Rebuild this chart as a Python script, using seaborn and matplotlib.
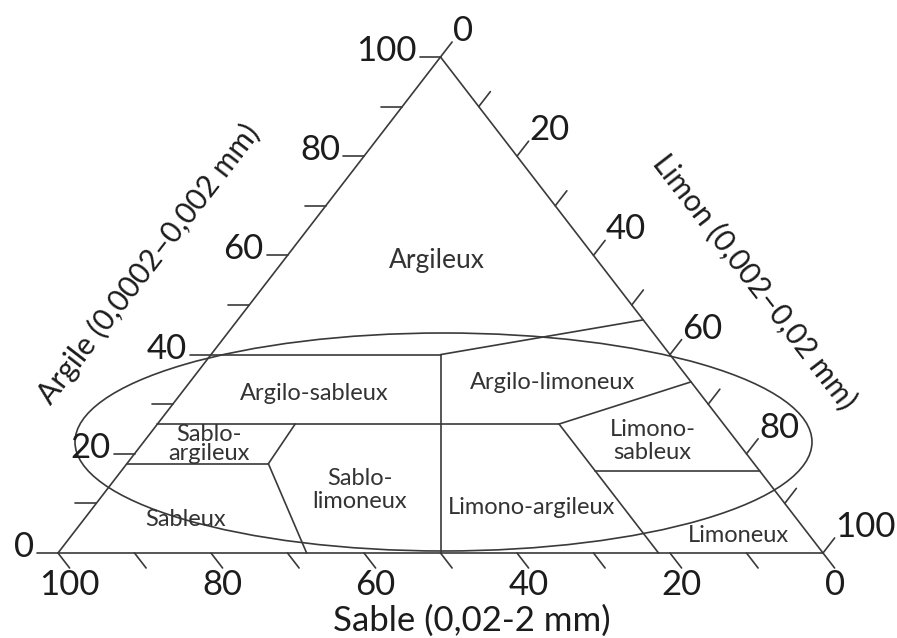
import numpy as np
import pandas as pd
import matplotlib
matplotlib.use("Agg")
import matplotlib.pyplot as plt
from matplotlib.patches import Ellipse
import seaborn as sns

# ---------------- data (sand, silt, clay percentages) ----------------
triangle_pts = [(100, 0, 0), (0, 100, 0), (0, 0, 100), (100, 0, 0)]

# class boundary segments, each = [start, end] in (sand, silt, clay)
boundary_segments = [
    [(60, 0, 40), (30, 30, 40)],
    [(30, 30, 40), (0, 53, 47)],
    [(30, 30, 40), (50, 50, 0)],
    [(74, 0, 26), (21.5, 52.5, 26)],
    [(21.5, 52.5, 26), (0, 65.5, 34.5)],
    [(21.5, 52.5, 26), (21.5, 78.5, 0)],
    [(21.5, 62, 16.5), (0, 83.5, 16.5)],
    [(56, 18, 26), (63.5, 18.5, 18)],
    [(63.5, 18.5, 18), (67.5, 32.5, 0)],
    [(82, 0, 18), (63.5, 18.5, 18)],
]

class_names = ["Argileux", "Argilo-sableux", "Argilo-limoneux", "Sablo-\nargileux",
               "Sablo-\nlimoneux", "Sableux", "Limono-argileux", "Limono-\nsableux",
               "Limoneux"]
class_sand = [21.0, 50.4, 18.2, 69.3, 54.2, 80.0, 33.5, 11.0, 9.3]
class_silt = [20.1, 17.5, 47.5, 8.7, 33.1, 13.3, 57.4, 66.4, 87.1]
class_clay = [58.9, 32.1, 34.3, 22.0, 12.7, 6.7, 9.1, 22.6, 3.6]

tick_values = list(range(0, 101, 10))
tick_labels = ["0", "20", "40", "60", "80", "100"]

axis_titles = {"clay": "Argile (0,0002\u20130,002 mm)",
               "silt": "Limon (0,002\u20130,02 mm)",
               "sand": "Sable (0,02-2 mm)"}

# --------------- helpers ----------------
def tern(s, l, c):
    """ternary -> cartesian (x along base, y = clay)"""
    return l + c / 2.0, c

PXX, PXY = 7.65, 4.96  # pixels per data unit

def px(dx, dy):
    """pixel offset (dy positive = down) -> data offset"""
    return dx / PXX, -dy / PXY

sns.set_theme(style="white")
plt.rcParams["font.family"] = ["Lato", "DejaVu Sans"]

fig = plt.figure(figsize=(8.97, 6.38), dpi=100)
ax = fig.add_axes([0, 0, 1, 1])
ax.set_xlim(-58 / PXX, (897 - 58) / PXX)
ax.set_ylim((553 - 638) / PXY, 553 / PXY)
ax.axis("off")

LC = "#3a3a3a"
TC = "#1c1c1c"
FW = "normal"

# --------------- line data ----------------
rows = []
seg_id = 0
for (p, q) in zip(triangle_pts[:-1], triangle_pts[1:]):
    for pt in (p, q):
        x, y = tern(*pt)
        rows.append({"seg": seg_id, "x": x, "y": y})
    seg_id += 1
for seg in boundary_segments:
    for pt in seg:
        x, y = tern(*pt)
        rows.append({"seg": seg_id, "x": x, "y": y})
    seg_id += 1

# ticks
tl_left = px(-21, 0)
tl_bottom = px(11.6, 15)
tl_right = px(11.6, -15)
tick_ends = {"clay": {}, "sand": {}, "silt": {}}
for v in tick_values:
    x0, y0 = tern(100 - v, 0, v)
    x1, y1 = x0 + tl_left[0], y0 + tl_left[1]
    rows += [{"seg": seg_id, "x": x0, "y": y0}, {"seg": seg_id, "x": x1, "y": y1}]
    seg_id += 1
    tick_ends["clay"][v] = (x1, y1)
    x0, y0 = tern(v, 100 - v, 0)
    x1, y1 = x0 + tl_bottom[0], y0 + tl_bottom[1]
    rows += [{"seg": seg_id, "x": x0, "y": y0}, {"seg": seg_id, "x": x1, "y": y1}]
    seg_id += 1
    tick_ends["sand"][v] = (x1, y1)
    x0, y0 = tern(0, v, 100 - v)
    x1, y1 = x0 + tl_right[0], y0 + tl_right[1]
    rows += [{"seg": seg_id, "x": x0, "y": y0}, {"seg": seg_id, "x": x1, "y": y1}]
    seg_id += 1
    tick_ends["silt"][v] = (x1, y1)

lines = pd.DataFrame(rows)
sns.lineplot(data=lines, x="x", y="y", units="seg", estimator=None, sort=False,
             color=LC, linewidth=1.2, ax=ax, legend=False)

# --------------- ellipse ----------------
ecx, ecy = (443.5 - 58) / PXX, (553 - 442) / PXY
ell = Ellipse((ecx, ecy), 737 / PXX, 218 / PXY, fill=False, edgecolor=LC, linewidth=1.2)
ax.add_patch(ell)

# --------------- tick labels ----------------
TFS = 25
for lab in tick_labels:
    v = int(lab)
    x, y = tick_ends["clay"][v]
    dx, dy = px(-3, 4)
    ax.text(x + dx, y + dy, lab, ha="right", va="baseline", fontsize=TFS, color=TC,
            fontweight=FW)
    x, y = tick_ends["sand"][v]
    dx, dy = px(0, 1)
    ax.text(x + dx, y + dy, lab, ha="center", va="top", fontsize=TFS, color=TC,
            fontweight=FW)
    x, y = tick_ends["silt"][v]
    dx, dy = px(1, -1)
    ax.text(x + dx, y + dy, lab, ha="left", va="baseline", fontsize=TFS, color=TC,
            fontweight=FW)

# --------------- axis titles ----------------
AFS_ROT = 21.5
ang = np.degrees(np.arctan2(496, 382.5))
ax.text((149 - 58) / PXX, (553 - 264) / PXY, axis_titles["clay"], rotation=ang,
        rotation_mode="anchor", ha="center", va="center", fontsize=AFS_ROT, color=TC,
        fontweight=FW)
ax.text((755 - 58) / PXX, (553 - 282) / PXY, axis_titles["silt"], rotation=-ang,
        rotation_mode="anchor", ha="center", va="center", fontsize=AFS_ROT, color=TC,
        fontweight=FW)
ax.text((472 - 58) / PXX, (553 - 621) / PXY, axis_titles["sand"], ha="center",
        va="center", fontsize=25, color=TC, fontweight=FW)

# --------------- class labels ----------------
for name, s, l, c in zip(class_names, class_sand, class_silt, class_clay):
    x, y = tern(s, l, c)
    lsp = 0.85 if name.startswith("Sablo-\nargi") else 1.15
    fs = 19 if name == "Argileux" else 17
    ax.text(x, y, name, ha="center", va="center", fontsize=fs, color="#333333",
            linespacing=lsp, multialignment="center", fontweight=FW)

fig.savefig("out.png", dpi=100)
